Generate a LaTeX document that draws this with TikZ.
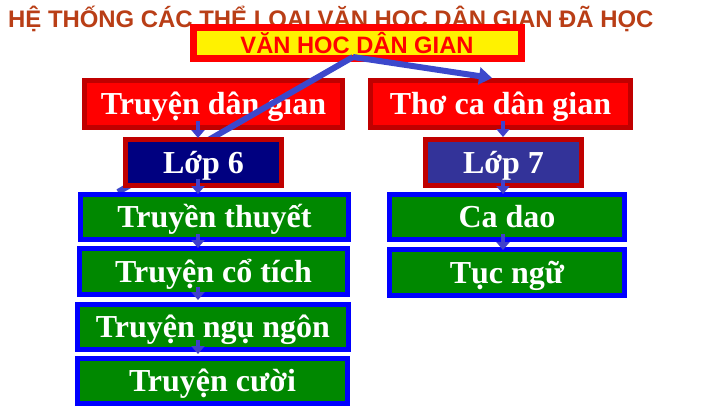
\documentclass[tikz,border=0pt]{standalone}
\usepackage{fontspec}
\setmainfont{Liberation Serif}
\setsansfont{Liberation Sans}
\usetikzlibrary{arrows.meta,calc}
\definecolor{titlec}{RGB}{185,62,22}
\definecolor{dred}{RGB}{192,0,0}
\definecolor{navyc}{RGB}{0,0,128}
\definecolor{slatec}{RGB}{51,51,153}
\definecolor{greenc}{RGB}{0,136,0}
\definecolor{arrc}{RGB}{64,64,204}
\definecolor{bigarr}{RGB}{60,72,204}
\tikzset{
  boxbase/.style={draw, line width=5pt, text=white, inner sep=0pt,
    font=\fontsize{32}{32}\selectfont\bfseries, text height=21pt, text depth=0pt},
  redbox/.style={boxbase, draw=dred, fill=red},
  lopbox/.style={boxbase, draw=dred},
  greenbox/.style={boxbase, draw=blue, fill=greenc},
  sarrow/.style={draw=arrc, line width=4pt, -{Triangle[width=13pt,length=8pt]}},
  barrow/.style={draw=bigarr, line width=6pt},
}
\begin{document}
\begin{tikzpicture}[x=1pt,y=-1pt]
\useasboundingbox (0,0) rectangle (720,405);
\fill[white] (0,0) rectangle (720,405);
% title
\node[anchor=base west, inner sep=0pt, text=titlec,
  font=\fontsize{23.9}{23.9}\sffamily\bfseries] (title) at (8,27)
  {HỆ THỐNG CÁC THỂ LOẠI VĂN HỌC DÂN GIAN ĐÃ HỌC};
% main box
\node[draw=red, fill=yellow, line width=7pt, inner sep=0pt,
  minimum width=328pt, minimum height=31pt, text=red,
  font=\fontsize{23.7}{23.7}\sffamily\bfseries, text height=20pt, text depth=0pt]
  (vh) at (357,43) {VĂN HOC DÂN GIAN};
% first level
\node[redbox, minimum width=258pt, minimum height=47pt] (tdg) at (213.5,104) {Truyện dân gian};
\node[redbox, minimum width=260pt, minimum height=47pt] (tcdg) at (500.5,104) {Thơ ca dân gian};
% big connectors
\coordinate (peak) at (353,57);
\coordinate (lend) at (118,192);
\coordinate (rend) at (492,78);
\draw[barrow] (peak) -- (lend);
\draw[barrow, -{Triangle[width=17pt,length=13pt]}] (peak) -- (rend);
% grade boxes
\node[lopbox, fill=navyc, minimum width=156pt, minimum height=46pt] (l6) at (203.5,162.5) {Lớp 6};
\node[lopbox, fill=slatec, minimum width=156pt, minimum height=46pt] (l7) at (503.5,162.5) {Lớp 7};
% genres
\node[greenbox, minimum width=268pt, minimum height=45pt] (tt) at (214.5,217) {Truyền thuyết};
\node[greenbox, minimum width=268pt, minimum height=46pt] (tct) at (213.5,271.5) {Truyện cổ tích};
\node[greenbox, minimum width=271pt, minimum height=45pt] (tnn) at (213,327) {Truyện ngụ ngôn};
\node[greenbox, minimum width=270pt, minimum height=45pt] (tc) at (212.5,381) {Truyện cười};
\node[greenbox, minimum width=235pt, minimum height=45pt] (cd) at (507,217) {Ca dao};
\node[greenbox, minimum width=235pt, minimum height=46pt] (tn) at (507,272.5) {Tục ngữ};
% small arrows
\coordinate (lx) at (198,0);
\coordinate (rx) at (503,0);
\draw[sarrow] ($(tdg.south -| lx)+(0,-9)$) -- ($(l6.north -| lx)+(0,1)$);
\draw[sarrow] ($(l6.south -| lx)+(0,-9)$) -- ($(tt.north -| lx)+(0,2)$);
\draw[sarrow] ($(tt.south -| lx)+(0,-8)$) -- ($(tct.north -| lx)+(0,2)$);
\draw[sarrow] ($(tct.south -| lx)+(0,-10)$) -- ($(tnn.north -| lx)+(0,-2)$);
\draw[sarrow] ($(tnn.south -| lx)+(0,-12)$) -- ($(tc.north -| lx)+(0,-2)$);
\draw[sarrow] ($(tcdg.south -| rx)+(0,-9)$) -- ($(l7.north -| rx)+(0,0)$);
\draw[sarrow] ($(l7.south -| rx)+(0,-8)$) -- ($(cd.north -| rx)+(0,2)$);
\draw[sarrow] ($(cd.south -| rx)+(0,-8)$) -- ($(tn.north -| rx)+(0,3)$);
\end{tikzpicture}
\end{document}
